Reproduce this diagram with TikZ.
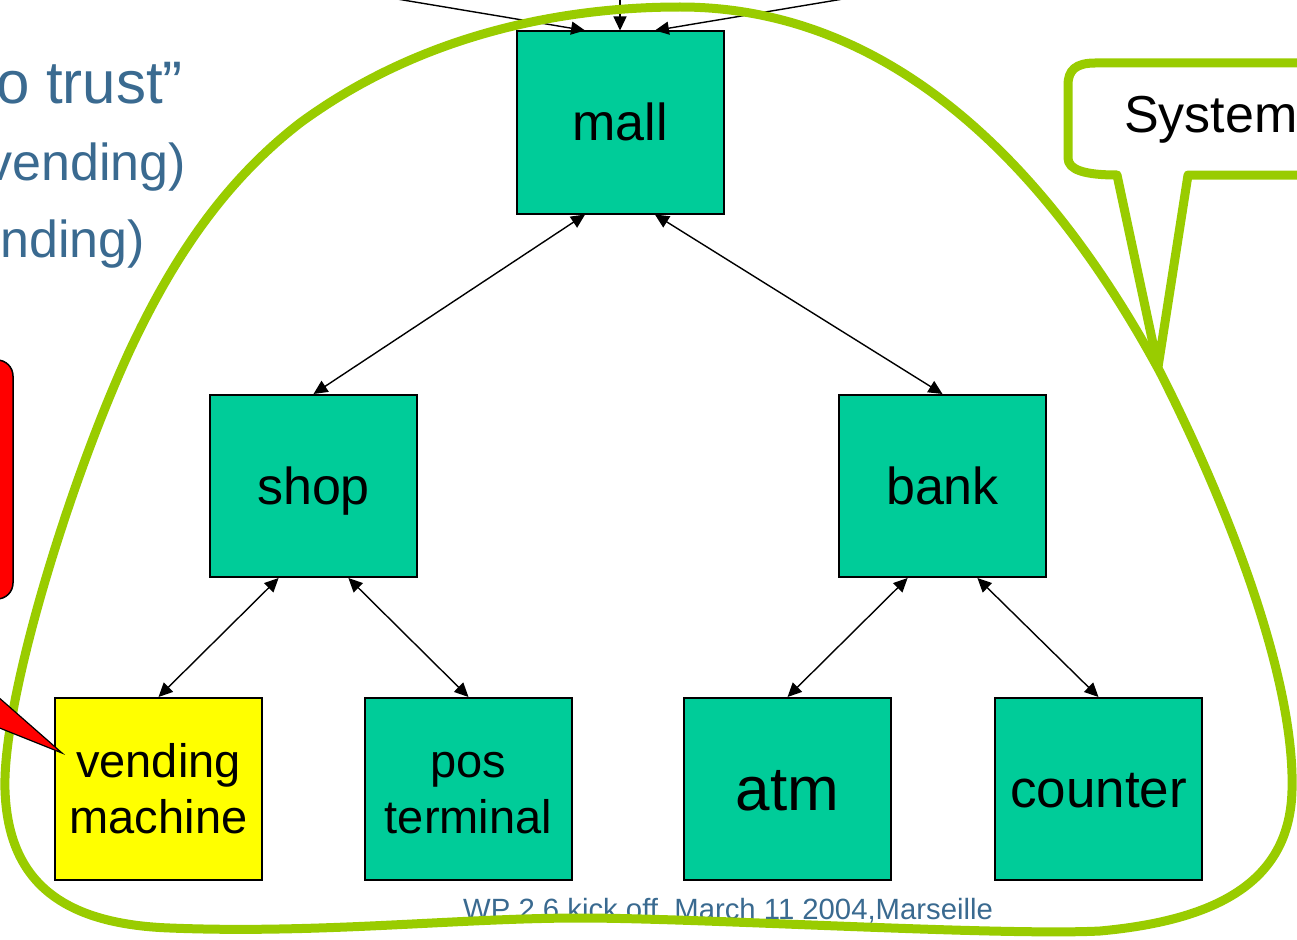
\documentclass[tikz,border=0pt]{standalone}
\usepackage{fontspec}
\setmainfont{Liberation Sans}
\usetikzlibrary{arrows.meta,calc}
\definecolor{boxteal}{RGB}{0,204,153}
\definecolor{boxyellow}{RGB}{255,255,0}
\definecolor{lime}{RGB}{153,204,0}
\definecolor{slate}{RGB}{58,106,144}
% line box of the slide font: ascent 0.905em, descent 0.212em
\newcommand{\linebox}{\rule[-0.212em]{0pt}{1.117em}}
\begin{document}
\begin{tikzpicture}[x=1pt,y=-1pt,
  entity/.style={draw=black, line width=2pt, fill=boxteal, minimum width=207pt,
    minimum height=182pt, inner sep=0pt, align=center, text=black},
  bigtxt/.style={font=\fontsize{52}{62}\selectfont},
  twoline/.style={font=\fontsize{47}{56}\selectfont},
  link/.style={line width=1.4pt, {Triangle[length=14pt,width=13pt]}-{Triangle[length=14pt,width=13pt]}},
  feed/.style={line width=1.4pt, -{Triangle[length=14pt,width=13pt]}},
  sysline/.style={draw=lime, line width=9pt, line join=round},
  bullet/.style={anchor=base east, inner sep=0pt, text=slate}]

\useasboundingbox (0,0) rectangle (1297,939);
\clip (0,0) rectangle (1297,939);

% footer
\node[anchor=base west, inner sep=0pt, text=slate, font=\fontsize{29.3}{35}\selectfont]
  (footer) at (463,919) {WP 2.6 kick off, March 11 2004,Marseille};

% hierarchy boxes
\node[entity, bigtxt] (mall) at (620,122.5) {\linebox mall};
\node[entity, bigtxt] (shop) at (313.5,486) {\linebox shop};
\node[entity, bigtxt] (bank) at (942.5,486) {\linebox bank};
\node[entity, twoline, fill=boxyellow] (vend) at (158.5,789) {\linebox vending\\\linebox machine};
\node[entity, twoline] (pos) at (468.5,789) {\linebox pos\\\linebox terminal};
\node[entity, font=\fontsize{62}{72}\selectfont] (atm) at (787.5,789) {\linebox atm};
\node[entity, font=\fontsize{53}{63}\selectfont] (counter) at (1098.5,789) {\linebox counter};

% incoming links from above
\coordinate (inL) at (200,-34);
\coordinate (inM) at (620,-40);
\coordinate (inR) at (1040,-34);
\draw[feed] (inL) -- ($(mall.north west)!0.333!(mall.north east)$);
\draw[feed] (inM) -- (mall.north);
\draw[feed] (inR) -- ($(mall.north west)!0.667!(mall.north east)$);

% tree links
\draw[link] ($(mall.south west)!0.333!(mall.south east)$) -- (shop.north);
\draw[link] ($(mall.south west)!0.667!(mall.south east)$) -- (bank.north);
\draw[link] ($(shop.south west)!0.333!(shop.south east)$) -- (vend.north);
\draw[link] ($(shop.south west)!0.667!(shop.south east)$) -- (pos.north);
\draw[link] ($(bank.south west)!0.333!(bank.south east)$) -- (atm.north);
\draw[link] ($(bank.south west)!0.667!(bank.south east)$) -- (counter.north);

% system boundary
\draw[sysline] (680,7)
  .. controls (880,7) and (1040,150) .. (1160,372)
  .. controls (1230,510) and (1295,680) .. (1292,790)
  .. controls (1290,880) and (1220,920) .. (1100,931)
  .. controls (1000,936) and (700,918) .. (580,918)
  .. controls (460,918) and (320,934) .. (170,928)
  .. controls (60,924) and (8,880) .. (5,790)
  .. controls (2,700) and (70,480) .. (130,350)
  .. controls (170,265) and (220,185) .. (300,123)
  .. controls (420,35) and (560,7) .. (680,7) -- cycle;

% callout naming the system
\draw[sysline, fill=white] (1117,175) -- (1158,367) -- (1188,175) -- (1330,175)
  -- (1330,63) -- (1095,63) .. controls (1076,63) and (1068,70) .. (1068,85)
  -- (1068,158) .. controls (1068,170) and (1085,175) .. (1117,175) -- cycle;
\node[anchor=base west, inner sep=0pt, font=\fontsize{52}{62}\selectfont]
  (sysname) at (1124,132) {System};

% red callout pointing at the vending machine
\draw[fill=red, line width=1.5pt, rounded corners=16pt] (-200,360) rectangle (13,599);
\draw[fill=red, line width=1.2pt, line join=miter] (-150,567) -- (62,753) -- (-150,668) -- cycle;

% bullet text
\node[bullet, font=\fontsize{60}{70}\selectfont] (b1) at (183,103) {to trust”};
\node[bullet, font=\fontsize{52}{62}\selectfont] (b2) at (186,180) {vending)};
\node[bullet, font=\fontsize{52}{62}\selectfont] (b3) at (145,257) {nding)};
\end{tikzpicture}
\end{document}
